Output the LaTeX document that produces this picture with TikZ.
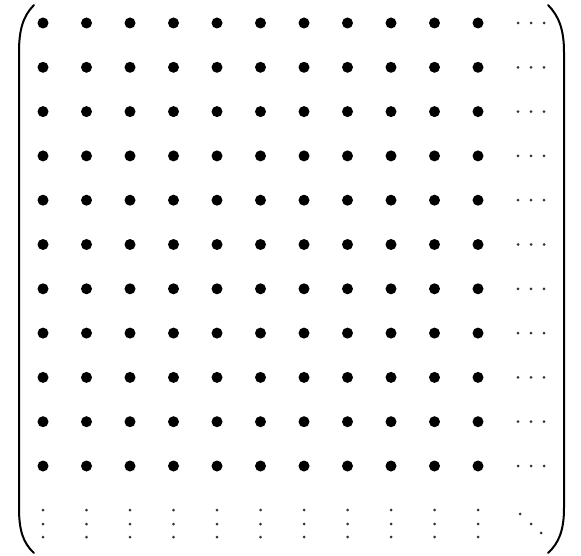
\documentclass[tikz,border=0pt]{standalone}
\begin{document}
\begin{tikzpicture}[x=1pt,y=-1pt,
  bigdot/.style={fill=black},
  smalldot/.style={fill=black!80},
  paren/.style={line width=2pt,line cap=round}]
\useasboundingbox (0,0) rectangle (581,556);
% parentheses
\draw[paren] (34,5) .. controls (23,16) and (19,30) .. (19,52) -- (19,508) .. controls (19,530) and (23,543) .. (34,553);
\draw[paren] (548,5) .. controls (559,16) and (564,30) .. (564,52) -- (564,508) .. controls (564,530) and (559,543) .. (548,553);
% dots
\foreach \i in {0,...,10}{
  \foreach \j in {0,...,10}{
    \fill[bigdot] ({43+43.5*\i},{23+44.3*\j}) circle (5.5);
  }
  % cdots
  \foreach \dx in {518,531,544}{
    \fill[smalldot] (\dx,{23+44.3*\i}) circle (1.5);
  }
  % vdots
  \foreach \dy in {510,524,537}{
    \fill[smalldot] ({43+43.5*\i},\dy) circle (1.5);
  }
}
% ddots
\fill[smalldot] (520,514) circle (1.5);
\fill[smalldot] (531,524) circle (1.5);
\fill[smalldot] (541,533) circle (1.5);
\end{tikzpicture}
\end{document}
